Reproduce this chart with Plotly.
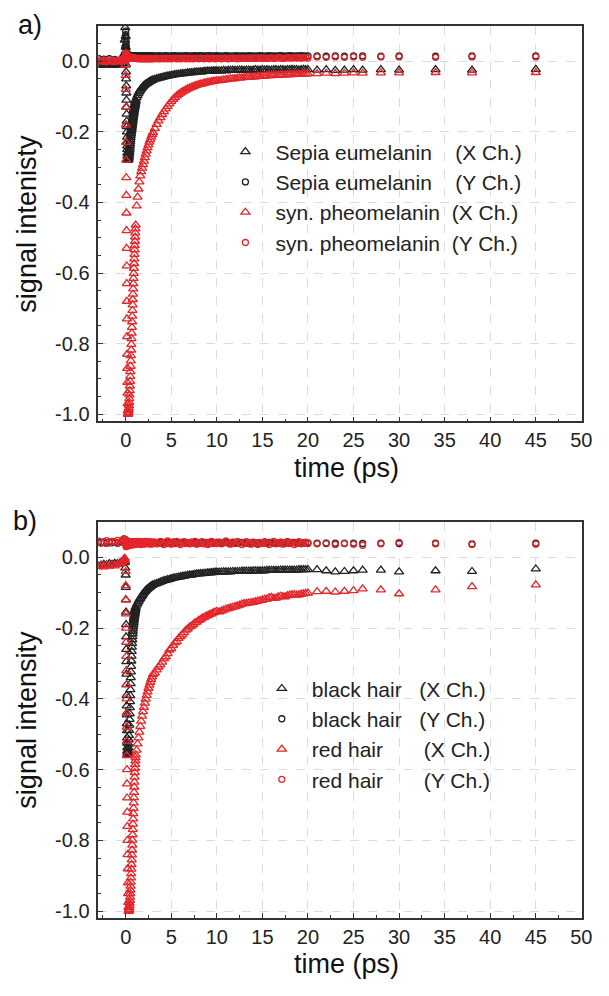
import plotly.graph_objects as go

# ---------------- time axis (ps), shared by both panels ----------------
t_pre = [-3.0, -2.7, -2.4, -2.1, -1.8, -1.5, -1.2, -0.9, -0.6, -0.4, -0.3, -0.2, -0.15, -0.1, -0.05]
t_fall = [0.00, 0.01, 0.02, 0.03, 0.04, 0.05, 0.06, 0.07, 0.08, 0.09, 0.10,
          0.11, 0.12, 0.13, 0.14, 0.15, 0.16, 0.17, 0.18, 0.19, 0.20]
t_col = [0.22, 0.24, 0.26, 0.28, 0.30, 0.32, 0.34, 0.36, 0.38, 0.40, 0.42, 0.44, 0.46, 0.48, 0.50,
         0.52, 0.54, 0.56, 0.58, 0.60, 0.62, 0.64, 0.66, 0.68, 0.70, 0.72, 0.74, 0.76, 0.78, 0.80,
         0.82, 0.84, 0.86, 0.88, 0.90, 0.92, 0.94, 0.96, 0.98, 1.00, 1.02, 1.04, 1.06, 1.08, 1.10]
t_early = [1.2, 1.3, 1.4, 1.5, 1.6, 1.7, 1.8, 1.9, 2.0, 2.1, 2.2, 2.3, 2.4, 2.5, 2.6, 2.7, 2.8, 2.9, 3.0]
t_mid = [3.2, 3.4, 3.6, 3.8, 4.0, 4.2, 4.4, 4.6, 4.8, 5.0, 5.2, 5.4, 5.6, 5.8, 6.0, 6.2, 6.4, 6.6,
         6.8, 7.0, 7.2, 7.4, 7.6, 7.8, 8.0, 8.2, 8.4, 8.6, 8.8, 9.0, 9.2, 9.4, 9.6, 9.8, 10.0]
t_late = [10.25, 10.5, 10.75, 11.0, 11.25, 11.5, 11.75, 12.0, 12.25, 12.5,
          12.75, 13.0, 13.25, 13.5, 13.75, 14.0, 14.25, 14.5, 14.75, 15.0,
          15.25, 15.5, 15.75, 16.0, 16.25, 16.5, 16.75, 17.0, 17.25, 17.5,
          17.75, 18.0, 18.25, 18.5, 18.75, 19.0, 19.25, 19.5, 19.75, 20.0]
t_tail = [21, 22, 23, 24, 25, 26, 28, 30, 34, 38, 45]
time_ps = t_pre + t_fall + t_col + t_early + t_mid + t_late + t_tail

# ---------------- panel a) ----------------
sepia_x = ([-0.01, -0.012, -0.009, -0.011, -0.01, -0.012, -0.009, -0.01, -0.011, -0.008, -0.006, 0.0, 0.02, 0.06, 0.095]
           + [0.07, 0.04, 0.015, -0.01, -0.03, -0.05, -0.07, -0.09, -0.11, -0.13, -0.15,
              -0.17, -0.185, -0.2, -0.215, -0.23, -0.24, -0.25, -0.26, -0.268, -0.275]
           + [-0.278, -0.28, -0.28, -0.279, -0.277, -0.274, -0.27, -0.266, -0.261, -0.256,
              -0.251, -0.246, -0.24, -0.234, -0.228, -0.222, -0.216, -0.21, -0.205, -0.2,
              -0.196, -0.192, -0.188, -0.184, -0.18, -0.176, -0.172, -0.168, -0.164, -0.16,
              -0.156, -0.152, -0.148, -0.144, -0.14, -0.137, -0.134, -0.131, -0.128, -0.125,
              -0.122, -0.119, -0.116, -0.113, -0.11]
           + [-0.103, -0.097, -0.091, -0.086, -0.082, -0.078, -0.075, -0.072, -0.069, -0.067,
              -0.065, -0.063, -0.062, -0.06, -0.058, -0.057, -0.055, -0.054, -0.053]
           + [-0.051, -0.05, -0.048, -0.047, -0.046, -0.044, -0.043, -0.042, -0.041, -0.04,
              -0.039, -0.038, -0.037, -0.037, -0.036, -0.035, -0.035, -0.034, -0.033, -0.033,
              -0.032, -0.032, -0.031, -0.031, -0.030, -0.030, -0.030, -0.029, -0.029, -0.028,
              -0.028, -0.028, -0.027, -0.027, -0.027]
           + [-0.027, -0.027, -0.026, -0.027, -0.026, -0.026, -0.025, -0.026, -0.026, -0.025,
              -0.025, -0.026, -0.025, -0.025, -0.026, -0.025, -0.024, -0.025, -0.025, -0.024,
              -0.025, -0.024, -0.025, -0.025, -0.024, -0.024, -0.025, -0.024, -0.024, -0.025,
              -0.024, -0.024, -0.023, -0.024, -0.024, -0.025, -0.024, -0.023, -0.024, -0.024]
           + [-0.025, -0.024, -0.026, -0.025, -0.024, -0.025, -0.024, -0.025, -0.024, -0.025, -0.023])

sepia_y = ([0.008, -0.004, 0.006, -0.006, 0.007, -0.003, 0.005, -0.005, 0.004, 0.002, 0.006, 0.01, 0.02, 0.04, 0.07]
           + [0.085, 0.075, 0.065, 0.055, 0.048, 0.042, 0.037, 0.033, 0.03, 0.028, 0.026,
              0.024, 0.023, 0.022, 0.021, 0.02, 0.02, 0.019, 0.019, 0.018, 0.018]
           + [0.017, 0.018, 0.017, 0.016, 0.017, 0.016, 0.017, 0.016, 0.016, 0.017,
              0.015, 0.016, 0.016, 0.015, 0.016, 0.015, 0.016, 0.015, 0.015, 0.016,
              0.015, 0.014, 0.015, 0.016, 0.015, 0.015, 0.014, 0.015, 0.016, 0.015,
              0.014, 0.015, 0.015, 0.016, 0.015, 0.014, 0.015, 0.015, 0.014, 0.016,
              0.015, 0.015, 0.014, 0.015, 0.015]
           + [0.015, 0.014, 0.015, 0.014, 0.015, 0.016, 0.014, 0.015, 0.015, 0.014,
              0.016, 0.015, 0.014, 0.015, 0.016, 0.015, 0.014, 0.015, 0.015]
           + [0.015, 0.014, 0.016, 0.015, 0.014, 0.015, 0.016, 0.015, 0.014, 0.015,
              0.015, 0.016, 0.014, 0.015, 0.015, 0.014, 0.015, 0.016, 0.015, 0.014,
              0.015, 0.015, 0.016, 0.014, 0.015, 0.016, 0.015, 0.014, 0.015, 0.015,
              0.016, 0.015, 0.014, 0.015, 0.016]
           + [0.015, 0.014, 0.015, 0.016, 0.015, 0.014, 0.015, 0.015, 0.016, 0.014,
              0.015, 0.015, 0.014, 0.016, 0.015, 0.015, 0.014, 0.015, 0.016, 0.015,
              0.014, 0.015, 0.016, 0.015, 0.015, 0.014, 0.015, 0.016, 0.015, 0.014,
              0.015, 0.016, 0.015, 0.014, 0.015, 0.015, 0.016, 0.015, 0.014, 0.015]
           + [0.015, 0.014, 0.015, 0.014, 0.015, 0.015, 0.014, 0.015, 0.014, 0.015, 0.015])

pheo_x = ([0.002, -0.001, 0.001, 0.0, -0.002, 0.001, 0.0, -0.001, 0.002, 0.0, 0.001, 0.003, 0.004, 0.002, -0.01]
          + [-0.04, -0.08, -0.13, -0.18, -0.23, -0.28, -0.33, -0.38, -0.43, -0.48, -0.53,
             -0.58, -0.63, -0.68, -0.73, -0.78, -0.83, -0.87, -0.91, -0.94, -0.97]
          + [-0.99, -1.0, -1.0, -0.998, -0.995, -0.99, -0.983, -0.975, -0.966, -0.956,
             -0.945, -0.933, -0.92, -0.907, -0.893, -0.879, -0.864, -0.849, -0.834, -0.818,
             -0.802, -0.786, -0.77, -0.754, -0.738, -0.722, -0.706, -0.69, -0.675, -0.66,
             -0.645, -0.63, -0.615, -0.601, -0.587, -0.573, -0.56, -0.547, -0.534, -0.522,
             -0.51, -0.498, -0.486, -0.475, -0.464]
          + [-0.41, -0.385, -0.362, -0.342, -0.325, -0.313, -0.303, -0.293, -0.283, -0.273,
             -0.263, -0.254, -0.245, -0.237, -0.229, -0.222, -0.215, -0.208, -0.202]
          + [-0.19, -0.179, -0.169, -0.16, -0.151, -0.143, -0.135, -0.128, -0.121, -0.114,
             -0.108, -0.103, -0.098, -0.094, -0.09, -0.087, -0.084, -0.081, -0.078, -0.076,
             -0.074, -0.072, -0.07, -0.068, -0.066, -0.065, -0.064, -0.062, -0.061, -0.06,
             -0.059, -0.058, -0.057, -0.056, -0.055]
          + [-0.055, -0.054, -0.053, -0.052, -0.051, -0.050, -0.050, -0.049, -0.048, -0.047,
             -0.047, -0.046, -0.046, -0.045, -0.045, -0.044, -0.044, -0.043, -0.043, -0.042,
             -0.042, -0.041, -0.041, -0.041, -0.040, -0.040, -0.040, -0.039, -0.039, -0.039,
             -0.038, -0.038, -0.038, -0.037, -0.037, -0.037, -0.037, -0.036, -0.036, -0.036]
          + [-0.035, -0.034, -0.035, -0.034, -0.033, -0.034, -0.033, -0.033, -0.032, -0.033, -0.032])

pheo_y = ([0.0, 0.001, -0.001, 0.0, 0.001, 0.0, -0.001, 0.001, 0.0, 0.001, 0.002, 0.004, 0.008, 0.012, 0.016]
          + [0.018, 0.02, 0.022, 0.023, 0.022, 0.021, 0.021, 0.02, 0.02, 0.019, 0.019,
             0.018, 0.018, 0.017, 0.017, 0.016, 0.016, 0.016, 0.015, 0.015, 0.015]
          + [0.014, 0.014, 0.014, 0.013, 0.013, 0.013, 0.013, 0.012, 0.012, 0.012,
             0.012, 0.012, 0.011, 0.011, 0.011, 0.011, 0.011, 0.01, 0.01, 0.01,
             0.01, 0.01, 0.01, 0.009, 0.01, 0.009, 0.009, 0.01, 0.009, 0.009,
             0.009, 0.009, 0.008, 0.009, 0.008, 0.009, 0.008, 0.008, 0.009, 0.008,
             0.008, 0.008, 0.009, 0.008, 0.008]
          + [0.008, 0.007, 0.008, 0.007, 0.008, 0.007, 0.007, 0.008, 0.007, 0.007,
             0.008, 0.007, 0.007, 0.008, 0.007, 0.008, 0.007, 0.007, 0.008]
          + [0.007, 0.008, 0.007, 0.007, 0.008, 0.007, 0.008, 0.007, 0.008, 0.007,
             0.008, 0.008, 0.007, 0.008, 0.007, 0.008, 0.008, 0.007, 0.008, 0.007,
             0.008, 0.007, 0.008, 0.008, 0.007, 0.008, 0.008, 0.007, 0.008, 0.008,
             0.007, 0.008, 0.008, 0.007, 0.008]
          + [0.008, 0.007, 0.008, 0.008, 0.007, 0.008, 0.009, 0.008, 0.007, 0.008,
             0.009, 0.008, 0.008, 0.009, 0.008, 0.009, 0.008, 0.009, 0.009, 0.008,
             0.009, 0.008, 0.009, 0.009, 0.008, 0.009, 0.01, 0.009, 0.008, 0.009,
             0.01, 0.009, 0.009, 0.01, 0.009, 0.01, 0.009, 0.01, 0.01, 0.009]
          + [0.012, 0.011, 0.012, 0.011, 0.012, 0.011, 0.012, 0.012, 0.011, 0.012, 0.012])

# ---------------- panel b) ----------------
black_x = ([-0.025, -0.022, -0.02, -0.021, -0.018, -0.02, -0.017, -0.018, -0.015, -0.016, -0.014, -0.012, -0.012, -0.015, -0.03]
           + [-0.05, -0.085, -0.12, -0.155, -0.19, -0.225, -0.26, -0.295, -0.33, -0.36, -0.39,
              -0.42, -0.445, -0.47, -0.49, -0.51, -0.525, -0.538, -0.547, -0.553, -0.556]
           + [-0.558, -0.556, -0.552, -0.546, -0.538, -0.528, -0.516, -0.503, -0.489, -0.474,
              -0.458, -0.442, -0.425, -0.408, -0.391, -0.374, -0.357, -0.34, -0.324, -0.308,
              -0.293, -0.279, -0.266, -0.254, -0.243, -0.233, -0.224, -0.216, -0.209, -0.202,
              -0.196, -0.19, -0.185, -0.18, -0.175, -0.171, -0.167, -0.163, -0.159, -0.156,
              -0.153, -0.15, -0.147, -0.144, -0.141]
           + [-0.135, -0.13, -0.125, -0.12, -0.116, -0.112, -0.108, -0.104, -0.1, -0.097,
              -0.094, -0.091, -0.089, -0.087, -0.085, -0.083, -0.081, -0.079, -0.078]
           + [-0.076, -0.074, -0.072, -0.07, -0.068, -0.066, -0.065, -0.063, -0.062, -0.06,
              -0.059, -0.058, -0.057, -0.056, -0.055, -0.054, -0.053, -0.052, -0.051, -0.05,
              -0.05, -0.049, -0.048, -0.047, -0.047, -0.046, -0.046, -0.045, -0.045, -0.044,
              -0.044, -0.043, -0.043, -0.042, -0.042]
           + [-0.042, -0.042, -0.041, -0.041, -0.041, -0.041, -0.040, -0.040, -0.040, -0.040,
              -0.039, -0.039, -0.039, -0.039, -0.039, -0.038, -0.038, -0.038, -0.038, -0.038,
              -0.038, -0.037, -0.037, -0.037, -0.037, -0.037, -0.037, -0.036, -0.036, -0.036,
              -0.036, -0.036, -0.036, -0.036, -0.036, -0.035, -0.035, -0.035, -0.035, -0.035]
           + [-0.035, -0.038, -0.041, -0.04, -0.038, -0.036, -0.036, -0.041, -0.038, -0.04, -0.033])

black_y = ([0.042, 0.041, 0.043, 0.04, 0.042, 0.041, 0.043, 0.04, 0.042, 0.044, 0.046, 0.05, 0.052, 0.05, 0.046]
           + [0.044, 0.046, 0.043, 0.042, 0.044, 0.041, 0.043, 0.04, 0.042, 0.041, 0.043,
              0.04, 0.042, 0.041, 0.039, 0.042, 0.04, 0.041, 0.043, 0.04, 0.042]
           + [0.041, 0.043, 0.04, 0.042, 0.041, 0.04, 0.042, 0.043, 0.041, 0.04,
              0.042, 0.041, 0.043, 0.04, 0.042, 0.041, 0.04, 0.042, 0.041, 0.043,
              0.042, 0.041, 0.04, 0.042, 0.043, 0.041, 0.04, 0.042, 0.041, 0.043,
              0.04, 0.042, 0.041, 0.043, 0.042, 0.04, 0.041, 0.042, 0.04, 0.043,
              0.041, 0.042, 0.04, 0.041, 0.042]
           + [0.042, 0.041, 0.043, 0.04, 0.042, 0.041, 0.043, 0.042, 0.04, 0.042,
              0.041, 0.043, 0.041, 0.042, 0.04, 0.042, 0.041, 0.043, 0.041]
           + [0.042, 0.041, 0.04, 0.042, 0.043, 0.041, 0.042, 0.04, 0.042, 0.041,
              0.043, 0.042, 0.041, 0.04, 0.042, 0.041, 0.043, 0.042, 0.041, 0.04,
              0.042, 0.041, 0.042, 0.04, 0.041, 0.042, 0.041, 0.04, 0.042, 0.041,
              0.04, 0.041, 0.042, 0.041, 0.04]
           + [0.042, 0.04, 0.041, 0.042, 0.041, 0.04, 0.042, 0.041, 0.04, 0.041,
              0.042, 0.04, 0.041, 0.04, 0.041, 0.042, 0.04, 0.041, 0.04, 0.041,
              0.041, 0.04, 0.042, 0.041, 0.04, 0.041, 0.04, 0.042, 0.041, 0.04,
              0.041, 0.04, 0.041, 0.042, 0.04, 0.041, 0.04, 0.041, 0.04, 0.041]
           + [0.04, 0.039, 0.04, 0.039, 0.04, 0.039, 0.04, 0.039, 0.04, 0.038, 0.04])

red_x = ([-0.026, -0.024, -0.027, -0.023, -0.025, -0.022, -0.024, -0.02, -0.018, -0.014, -0.01, -0.006, -0.004, -0.003, -0.01]
         + [-0.04, -0.08, -0.12, -0.16, -0.2, -0.24, -0.28, -0.32, -0.36, -0.4, -0.44,
            -0.48, -0.52, -0.56, -0.6, -0.64, -0.68, -0.72, -0.76, -0.8, -0.84]
         + [-0.88, -0.92, -0.95, -0.975, -0.99, -1.0, -1.0, -0.998, -0.995, -0.99,
            -0.984, -0.977, -0.969, -0.96, -0.95, -0.94, -0.929, -0.918, -0.906, -0.894,
            -0.881, -0.868, -0.855, -0.841, -0.827, -0.813, -0.799, -0.784, -0.769, -0.754,
            -0.739, -0.724, -0.709, -0.694, -0.679, -0.664, -0.649, -0.635, -0.621, -0.608,
            -0.596, -0.585, -0.575, -0.566, -0.558]
         + [-0.545, -0.527, -0.51, -0.494, -0.478, -0.463, -0.449, -0.436, -0.424, -0.412,
            -0.401, -0.39, -0.38, -0.37, -0.361, -0.353, -0.345, -0.338, -0.331]
         + [-0.327, -0.318, -0.31, -0.304, -0.296, -0.287, -0.281, -0.272, -0.262, -0.258,
            -0.249, -0.242, -0.238, -0.229, -0.224, -0.219, -0.213, -0.206, -0.203, -0.197,
            -0.194, -0.19, -0.185, -0.183, -0.178, -0.176, -0.172, -0.17, -0.166, -0.165,
            -0.161, -0.16, -0.157, -0.155, -0.153]
         + [-0.154, -0.152, -0.149, -0.146, -0.145, -0.143, -0.141, -0.139, -0.137, -0.135,
            -0.132, -0.131, -0.13, -0.129, -0.128, -0.127, -0.125, -0.124, -0.122, -0.121,
            -0.119, -0.118, -0.114, -0.113, -0.116, -0.115, -0.112, -0.11, -0.111, -0.112,
            -0.108, -0.107, -0.105, -0.105, -0.107, -0.106, -0.104, -0.103, -0.102, -0.101]
         + [-0.097, -0.096, -0.098, -0.096, -0.094, -0.089, -0.092, -0.103, -0.092, -0.083, -0.078])

red_y = ([0.046, 0.04, 0.044, 0.047, 0.041, 0.045, 0.043, 0.048, 0.042, 0.046, 0.05, 0.052, 0.048, 0.044, 0.04]
         + [0.05, 0.042, 0.036, 0.045, 0.03, 0.04, 0.034, 0.048, 0.038, 0.032, 0.043,
            0.036, 0.04, 0.033, 0.046, 0.037, 0.031, 0.042, 0.038, 0.035, 0.041]
         + [0.04, 0.034, 0.038, 0.042, 0.035, 0.039, 0.043, 0.036, 0.04, 0.034,
            0.038, 0.042, 0.037, 0.04, 0.035, 0.039, 0.043, 0.037, 0.041, 0.036,
            0.04, 0.044, 0.038, 0.035, 0.041, 0.037, 0.042, 0.039, 0.036, 0.04,
            0.043, 0.038, 0.041, 0.036, 0.039, 0.042, 0.037, 0.04, 0.044, 0.038,
            0.041, 0.036, 0.039, 0.042, 0.04]
         + [0.04, 0.045, 0.038, 0.042, 0.036, 0.044, 0.039, 0.043, 0.037, 0.041,
            0.045, 0.039, 0.042, 0.038, 0.044, 0.04, 0.037, 0.043, 0.039]
         + [0.043, 0.038, 0.042, 0.045, 0.039, 0.036, 0.042, 0.046, 0.04, 0.037,
            0.043, 0.039, 0.045, 0.041, 0.036, 0.042, 0.044, 0.039, 0.041, 0.038,
            0.043, 0.04, 0.045, 0.037, 0.042, 0.039, 0.044, 0.038, 0.041, 0.036,
            0.042, 0.045, 0.039, 0.04, 0.043]
         + [0.043, 0.038, 0.042, 0.046, 0.04, 0.037, 0.043, 0.039, 0.045, 0.041,
            0.036, 0.042, 0.044, 0.039, 0.037, 0.043, 0.04, 0.036, 0.042, 0.04,
            0.044, 0.039, 0.036, 0.042, 0.045, 0.038, 0.041, 0.043, 0.037, 0.04,
            0.045, 0.039, 0.042, 0.036, 0.041, 0.044, 0.038, 0.04, 0.043, 0.039]
         + [0.038, 0.041, 0.036, 0.04, 0.037, 0.034, 0.038, 0.042, 0.038, 0.036, 0.037])

for _s in (sepia_x, sepia_y, pheo_x, pheo_y, black_x, black_y, red_x, red_y):
    assert len(_s) == len(time_ps), (len(_s), len(time_ps))

x_ticks = [0, 5, 10, 15, 20, 25, 30, 35, 40, 45, 50]
y_ticks = [-1.0, -0.8, -0.6, -0.4, -0.2, 0.0]
y_ticktext = ["-1.0", "-0.8", "-0.6", "-0.4", "-0.2", "0.0"]

NB = "\u00a0"
legend_a = ["Sepia eumelanin" + NB * 4 + "(X Ch.)", "Sepia eumelanin" + NB * 4 + "(Y Ch.)",
            "syn. pheomelanin" + NB * 2 + "(X Ch.)", "syn. pheomelanin" + NB * 2 + "(Y Ch.)"]
legend_b = ["black hair" + NB * 3 + "(X Ch.)", "black hair" + NB * 3 + "(Y Ch.)",
            "red hair" + NB * 7 + "(X Ch.)", "red hair" + NB * 7 + "(Y Ch.)"]

BLACK = "#222222"
RED = "#e3262b"
FONT = "Arial, Liberation Sans, sans-serif"

fig = go.Figure()

def add(y, name, color, symbol, size, xa, ya, leg):
    fig.add_trace(go.Scatter(
        x=time_ps, y=y, mode="markers", name=name, xaxis=xa, yaxis=ya, legend=leg,
        marker=dict(symbol=symbol, size=size, color=color,
                    line=dict(color=color, width=1.3)),
        showlegend=True))

add(sepia_x, legend_a[0], BLACK, "triangle-up-open", 8, "x", "y", "legend")
add(sepia_y, legend_a[1], BLACK, "circle-open", 6, "x", "y", "legend")
add(pheo_x, legend_a[2], RED, "triangle-up-open", 8, "x", "y", "legend")
add(pheo_y, legend_a[3], RED, "circle-open", 6, "x", "y", "legend")
add(black_x, legend_b[0], BLACK, "triangle-up-open", 8, "x2", "y2", "legend2")
add(black_y, legend_b[1], BLACK, "circle-open", 6, "x2", "y2", "legend2")
add(red_x, legend_b[2], RED, "triangle-up-open", 8, "x2", "y2", "legend2")
add(red_y, legend_b[3], RED, "circle-open", 6, "x2", "y2", "legend2")

W, H = 609, 996

def xaxis(dom, anchor):
    return dict(domain=dom, anchor=anchor, range=[-3, 50.1], tickmode="array", tickvals=x_ticks,
                ticks="inside", ticklen=5, tickwidth=1.2, tickcolor="#333",
                minor=dict(tickmode="linear", tick0=0, dtick=2.5, ticks="inside", ticklen=3,
                           tickwidth=1, tickcolor="#333", showgrid=False),
                showgrid=True, gridcolor="#dcdcdc", griddash="dash", gridwidth=1,
                showline=True, linecolor="#333", linewidth=1.6, mirror=True, zeroline=False,
                tickfont=dict(family=FONT, size=20, color="#222"))

def yaxis(dom, anchor):
    return dict(domain=dom, anchor=anchor, range=[-1.02, 0.1], tickmode="array", tickvals=y_ticks,
                ticktext=y_ticktext, ticks="inside", ticklen=5, tickwidth=1.2, tickcolor="#333",
                minor=dict(tickmode="linear", tick0=0, dtick=0.05, ticks="inside", ticklen=3,
                           tickwidth=1, tickcolor="#333", showgrid=False),
                showgrid=True, gridcolor="#dcdcdc", griddash="dash", gridwidth=1,
                showline=True, linecolor="#333", linewidth=1.6, mirror=True, zeroline=False,
                ticklabelstandoff=3,
                tickfont=dict(family=FONT, size=20, color="#222"))

def px_x(p):
    return p / W

def px_y(p):
    return 1 - p / H

xd = [px_x(100), px_x(592)]
fig.update_layout(
    width=W, height=H, margin=dict(l=0, r=0, t=0, b=0),
    paper_bgcolor="white", plot_bgcolor="white",
    font=dict(family=FONT, color="#222"),
    xaxis=xaxis(xd, "y"), yaxis=yaxis([px_y(423), px_y(26)], "x"),
    xaxis2=xaxis(xd, "y2"), yaxis2=yaxis([px_y(922), px_y(524)], "x2"),
    legend=dict(x=px_x(219), y=px_y(132), xanchor="left", yanchor="top",
                bgcolor="rgba(0,0,0,0)", itemwidth=50, tracegroupgap=0,
                font=dict(family=FONT, size=21, color="#222")),
    legend2=dict(x=px_x(256), y=px_y(671), xanchor="left", yanchor="top",
                 bgcolor="rgba(0,0,0,0)", itemwidth=50, tracegroupgap=0,
                 font=dict(family=FONT, size=21, color="#222")),
)

annos = [
    dict(text="a)", x=px_x(30), y=px_y(25), font=dict(size=27)),
    dict(text="b)", x=px_x(25), y=px_y(523), font=dict(size=27)),
    dict(text="time (ps)", x=px_x(352), y=px_y(470), font=dict(size=27)),
    dict(text="time (ps)", x=px_x(352), y=px_y(968), font=dict(size=27)),
    dict(text="signal intenisty", x=px_x(28), y=px_y(225), textangle=-90, font=dict(size=27)),
    dict(text="signal intensity", x=px_x(28), y=px_y(723), textangle=-90, font=dict(size=27)),
]
for a in annos:
    a.update(xref="paper", yref="paper", showarrow=False, xanchor="center", yanchor="middle")
    a["font"].update(family=FONT, color="#111")
    fig.add_annotation(**a)

fig.write_html("out.html", config={"displayModeBar": False},
               post_script="document.body.style.margin='0';document.body.style.overflow='hidden';")
